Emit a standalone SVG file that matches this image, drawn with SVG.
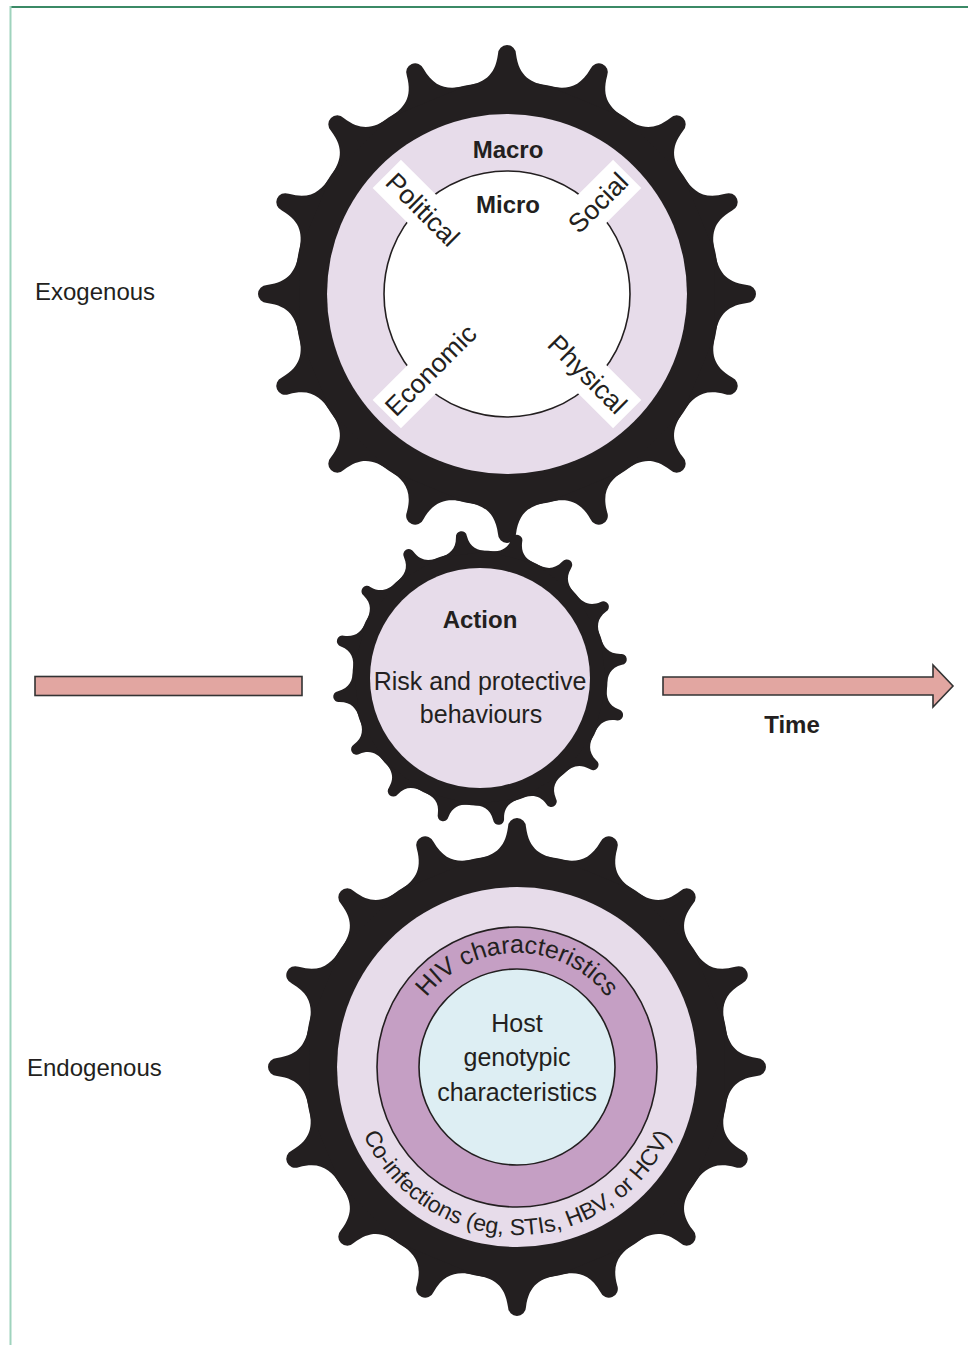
<svg xmlns="http://www.w3.org/2000/svg" width="968" height="1345" viewBox="0 0 968 1345">
<defs>
<style>
.t{font-family:"Liberation Sans",Arial,sans-serif;fill:#231f20}
.b{font-weight:bold}
.gear{fill:#231f20}
.lav{fill:#e7dcea}
.ring{stroke:#231f20;stroke-width:1.6}
.band{fill:#ffffff}
</style>
<path id="toothL" d="M -41.4 -207.9 C -24 -211.3 -12 -217 -9 -240 A 9 9 0 0 1 9 -240 C 12 -217 24 -211.3 41.4 -207.9 Z"/>
<path id="toothS" d="M -24.9 -124.5 C -14 -126.7 -7 -130.5 -5.5 -142.5 A 5.5 5.5 0 0 1 5.5 -142.5 C 7 -130.5 14 -126.7 24.9 -124.5 Z"/>
<g id="teethL">
<circle r="212.5"/>
<use href="#toothL"/><use href="#toothL" transform="rotate(22.5)"/><use href="#toothL" transform="rotate(45)"/><use href="#toothL" transform="rotate(67.5)"/>
<use href="#toothL" transform="rotate(90)"/><use href="#toothL" transform="rotate(112.5)"/><use href="#toothL" transform="rotate(135)"/><use href="#toothL" transform="rotate(157.5)"/>
<use href="#toothL" transform="rotate(180)"/><use href="#toothL" transform="rotate(202.5)"/><use href="#toothL" transform="rotate(225)"/><use href="#toothL" transform="rotate(247.5)"/>
<use href="#toothL" transform="rotate(270)"/><use href="#toothL" transform="rotate(292.5)"/><use href="#toothL" transform="rotate(315)"/><use href="#toothL" transform="rotate(337.5)"/>
</g>
<g id="teethS">
<circle r="127.5"/>
<use href="#toothS"/><use href="#toothS" transform="rotate(22.5)"/><use href="#toothS" transform="rotate(45)"/><use href="#toothS" transform="rotate(67.5)"/>
<use href="#toothS" transform="rotate(90)"/><use href="#toothS" transform="rotate(112.5)"/><use href="#toothS" transform="rotate(135)"/><use href="#toothS" transform="rotate(157.5)"/>
<use href="#toothS" transform="rotate(180)"/><use href="#toothS" transform="rotate(202.5)"/><use href="#toothS" transform="rotate(225)"/><use href="#toothS" transform="rotate(247.5)"/>
<use href="#toothS" transform="rotate(270)"/><use href="#toothS" transform="rotate(292.5)"/><use href="#toothS" transform="rotate(315)"/><use href="#toothS" transform="rotate(337.5)"/>
</g>
<path id="arcHIV" d="M -114 0 A 114 114 0 0 1 114 0"/>
<path id="arcCo" d="M -168 0 A 168 168 0 0 0 168 0"/>
</defs>

<rect width="968" height="1345" fill="#ffffff"/>
<g id="frame">
<line x1="10" y1="7" x2="968" y2="7" stroke="#3b8a66" stroke-width="2"/>
<line x1="10.5" y1="6" x2="10.5" y2="1345" stroke="#9fd3bd" stroke-width="2"/>
</g>

<g id="gear-top" transform="translate(507,294)">
<use href="#teethL" class="gear"/>
<circle class="lav" r="180"/>
<circle r="123" fill="#ffffff" class="ring"/>
<g transform="rotate(45)">
<rect class="band" x="-170" y="-20" width="72" height="40"/>
<rect class="band" x="98" y="-20" width="72" height="40"/>
<text class="t" x="-165" y="9" font-size="26.5">Political</text>
<text class="t" x="163" y="9" font-size="26.5" text-anchor="end">Physical</text>
</g>
<g transform="rotate(-45)">
<rect class="band" x="-170" y="-20" width="72" height="40"/>
<rect class="band" x="98" y="-20" width="72" height="40"/>
<text class="t" x="165" y="9" font-size="26.5" text-anchor="end">Social</text>
<text class="t" x="-166" y="9" font-size="26.5">Economic</text>
</g>
<text class="t b" x="1" y="-136" font-size="24" text-anchor="middle">Macro</text>
<text class="t b" x="1" y="-81" font-size="24" text-anchor="middle">Micro</text>
</g>

<g id="gear-middle" transform="translate(480,678)">
<use href="#teethS" class="gear" transform="rotate(-7.5)"/>
<circle class="lav" r="110"/>
<text class="t b" x="0" y="-50" font-size="24" text-anchor="middle">Action</text>
<text class="t" x="0" y="12" font-size="25" text-anchor="middle">Risk and protective</text>
<text class="t" x="1" y="45" font-size="25" text-anchor="middle">behaviours</text>
</g>

<g id="gear-bottom" transform="translate(517,1067)">
<use href="#teethL" class="gear"/>
<circle class="lav" r="180"/>
<circle r="140" fill="#c59fc4" class="ring"/>
<circle r="98" fill="#ddeef3" class="ring"/>
<text class="t" font-size="25"><textPath href="#arcHIV" startOffset="50%" text-anchor="middle">HIV characteristics</textPath></text>
<text class="t" font-size="23"><textPath href="#arcCo" startOffset="50%" text-anchor="middle">Co-infections (eg, STIs, HBV, or HCV)</textPath></text>
<text class="t" x="0" y="-35" font-size="25" text-anchor="middle">Host</text>
<text class="t" x="0" y="-1" font-size="25" text-anchor="middle">genotypic</text>
<text class="t" x="0" y="34" font-size="25" text-anchor="middle">characteristics</text>
</g>

<g id="connectors" fill="#e2a6a1" stroke="#333333" stroke-width="1.6">
<rect x="35" y="676.5" width="267" height="19"/>
<path d="M663 677 H933 V665 L953 686 L933 707 V695 H663 Z"/>
</g>

<g id="labels">
<text class="t" x="35" y="300" font-size="24" fill="#333333">Exogenous</text>
<text class="t" x="27" y="1076" font-size="24">Endogenous</text>
<text class="t b" x="792" y="733" font-size="24" text-anchor="middle">Time</text>
</g>
</svg>
